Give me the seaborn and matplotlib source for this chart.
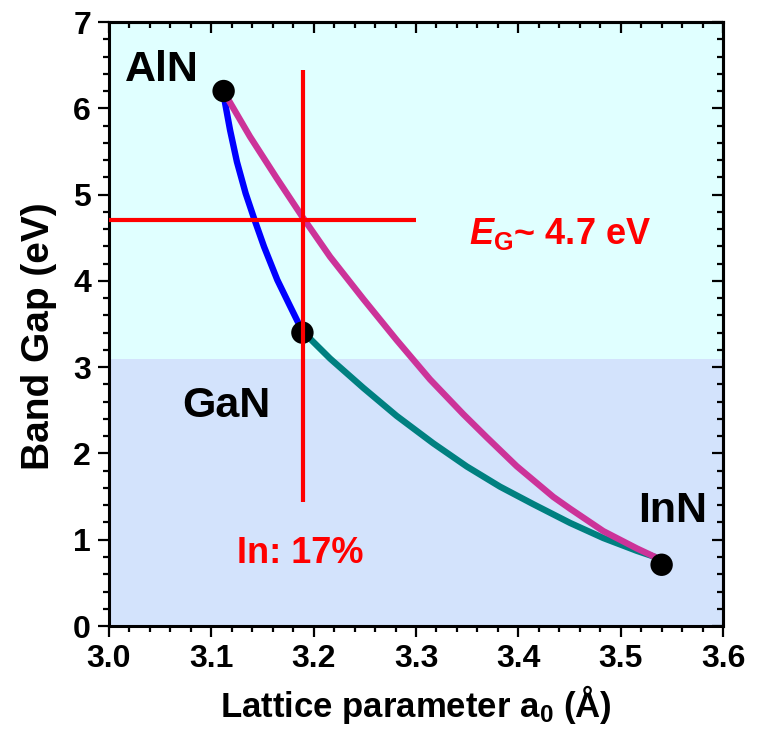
import matplotlib
matplotlib.use("Agg")
import matplotlib.pyplot as plt
from matplotlib.ticker import MultipleLocator, FormatStrFormatter
import seaborn as sns

# binary nitrides: lattice parameter (A) and band gap (eV)
node_names = ["AlN", "GaN", "InN"]
node_a = [3.112, 3.189, 3.540]
node_eg = [6.2, 3.4, 0.71]

# AlGaN branch (blue)
algan_a = [3.1111, 3.1183, 3.1250, 3.1335, 3.1420, 3.1515, 3.1645, 3.1760, 3.1889]
algan_eg = [6.212, 5.748, 5.380, 5.015, 4.715, 4.396, 4.010, 3.730, 3.419]

# InGaN branch (teal)
ingan_a = [3.1889, 3.2160, 3.2485, 3.2811, 3.3169, 3.3496, 3.3821, 3.4146,
           3.4505, 3.4830, 3.5157, 3.5336]
ingan_eg = [3.419, 3.100, 2.760, 2.435, 2.117, 1.849, 1.615, 1.412,
            1.195, 1.020, 0.872, 0.800]

# AlInN branch (magenta)
alinn_a = [3.1111, 3.1378, 3.1639, 3.1889, 3.2160, 3.2485, 3.2811, 3.3137,
           3.3462, 3.3691, 3.3984, 3.4342, 3.4505, 3.4830, 3.5157, 3.5336]
alinn_eg = [6.212, 5.671, 5.190, 4.743, 4.280, 3.790, 3.314, 2.858,
            2.455, 2.187, 1.852, 1.496, 1.360, 1.100, 0.900, 0.800]

# target crosshair
eg_target = 4.7
eg_line_a = [3.0, 3.3]
a_target = 3.19
a_line_eg = [1.44, 6.44]
visible_edge = 3.09

sns.set_style("ticks")
plt.rcParams["font.family"] = ["Liberation Sans", "DejaVu Sans"]
plt.rcParams["font.weight"] = "bold"
plt.rcParams["mathtext.fontset"] = "custom"
plt.rcParams["mathtext.rm"] = "Liberation Sans:bold"
plt.rcParams["mathtext.bf"] = "Liberation Sans:bold"
plt.rcParams["mathtext.it"] = "Liberation Sans:italic:bold"
for key in ["text.color", "axes.labelcolor", "xtick.color", "ytick.color",
            "axes.edgecolor"]:
    plt.rcParams[key] = "black"

fig = plt.figure(figsize=(7.59, 7.31), dpi=100)
ax = fig.add_axes([0.1436, 0.1436, 0.809, 0.8263])

ax.axhspan(0, visible_edge, color="#d3e3fc", lw=0, zorder=0)
ax.axhspan(visible_edge, 7, color="#e0ffff", lw=0, zorder=0)

line_kw = dict(linewidth=4.6, sort=False, estimator=None, zorder=2,
               solid_joinstyle="round", solid_capstyle="round")
sns.lineplot(x=algan_a, y=algan_eg, ax=ax, color="#0000ff", **line_kw)
sns.lineplot(x=ingan_a, y=ingan_eg, ax=ax, color="#008080", **line_kw)
sns.lineplot(x=alinn_a, y=alinn_eg, ax=ax, color="#cc3399", **line_kw)
sns.scatterplot(x=node_a, y=node_eg, ax=ax, s=260, color="black",
                edgecolor="none", zorder=3)

ax.hlines(eg_target, eg_line_a[0], eg_line_a[1], color="#ff0000", lw=3, zorder=4)
ax.vlines(a_target, a_line_eg[0], a_line_eg[1], color="#ff0000", lw=3, zorder=4)

ax.text(3.0156, 6.316, "AlN", fontsize=31, va="baseline", ha="left")
ax.text(3.0711, 2.426, "GaN", fontsize=31, va="baseline", ha="left")
ax.text(3.517, 1.202, "InN", fontsize=31, va="baseline", ha="left")
ax.text(3.125, 0.726, "In: 17%", fontsize=26, color="#ff0000",
        va="baseline", ha="left")
ax.text(3.352, 4.423, r"$\mathit{E}_{\mathrm{G}}$~ 4.7 eV", fontsize=26,
        color="#ff0000", va="baseline", ha="left")

ax.set_xlim(3.0, 3.6)
ax.set_ylim(0, 7)
ax.xaxis.set_major_locator(MultipleLocator(0.1))
ax.xaxis.set_minor_locator(MultipleLocator(0.02))
ax.xaxis.set_major_formatter(FormatStrFormatter("%.1f"))
ax.yaxis.set_major_locator(MultipleLocator(1))
ax.yaxis.set_minor_locator(MultipleLocator(0.2))
ax.tick_params(which="major", direction="out", length=8, width=1.6,
               labelsize=23, pad=5, top=False, right=False)
ax.tick_params(which="minor", direction="out", length=4.5, width=1.6,
               top=False, right=False)
for s in ax.spines.values():
    s.set_linewidth(2.2)
    s.set_visible(True)

top = ax.secondary_xaxis("top")
top.xaxis.set_major_locator(MultipleLocator(0.1))
top.xaxis.set_minor_locator(MultipleLocator(0.02))
top.tick_params(which="major", direction="in", length=8, width=1.6, labeltop=False)
top.tick_params(which="minor", direction="in", length=4.5, width=1.6)
right = ax.secondary_yaxis("right")
right.yaxis.set_major_locator(MultipleLocator(1))
right.yaxis.set_minor_locator(MultipleLocator(0.2))
right.tick_params(which="major", direction="in", length=8, width=1.6, labelright=False)
right.tick_params(which="minor", direction="in", length=4.5, width=1.6)
for sec in (top, right):
    for s in sec.spines.values():
        s.set_linewidth(2.2)

ax.set_ylabel("Band Gap (eV)", fontsize=28, fontweight="bold")
ax.set_xlabel(r"Lattice parameter a$_{\mathrm{0}}$ (Å)", fontsize=25,
              fontweight="bold")
ax.yaxis.set_label_coords(-0.0847, 0.48)
ax.xaxis.set_label_coords(0.5, -0.094)

fig.savefig("out.png", dpi=100)
